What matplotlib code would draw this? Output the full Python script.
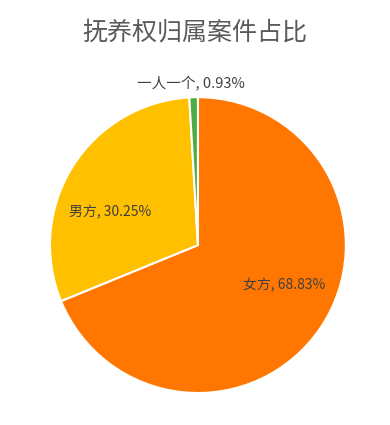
import matplotlib
matplotlib.use("Agg")
import matplotlib.pyplot as plt

plt.rcParams['font.family'] = ['Noto Sans CJK SC', 'DejaVu Sans']

title = "抚养权归属案件占比"
categories = ["女方", "男方", "一人一个"]
values = [68.83, 30.25, 0.93]
colors = ["#FF7700", "#FFC000", "#4EAC44"]

fig = plt.figure(figsize=(3.9, 4.25), dpi=100)
ax = fig.add_axes([0.128, 0.0753, 0.759, 0.696])
wedges, _ = ax.pie(values, colors=colors, startangle=90, counterclock=False,
                   wedgeprops=dict(edgecolor="white", linewidth=1.5))
ax.set_xlim(-1, 1)
ax.set_ylim(-1, 1)
ax.set_aspect('equal')

label_pos = [(0.58, -0.27), (-0.595, 0.22), (-0.05, 1.09)]
label_sizes = [10, 10, 10.5]
for cat, v, (x, y), fs in zip(categories, values, label_pos, label_sizes):
    ax.text(x, y, f"{cat}, {v:.2f}%", ha='center', va='center',
            fontsize=fs, color="#404040", clip_on=False)

fig.text(0.5, 1 - 32/425, title, ha='center', va='center', fontsize=18, color="#595959")
fig.savefig("out.png", dpi=100, facecolor="white")
